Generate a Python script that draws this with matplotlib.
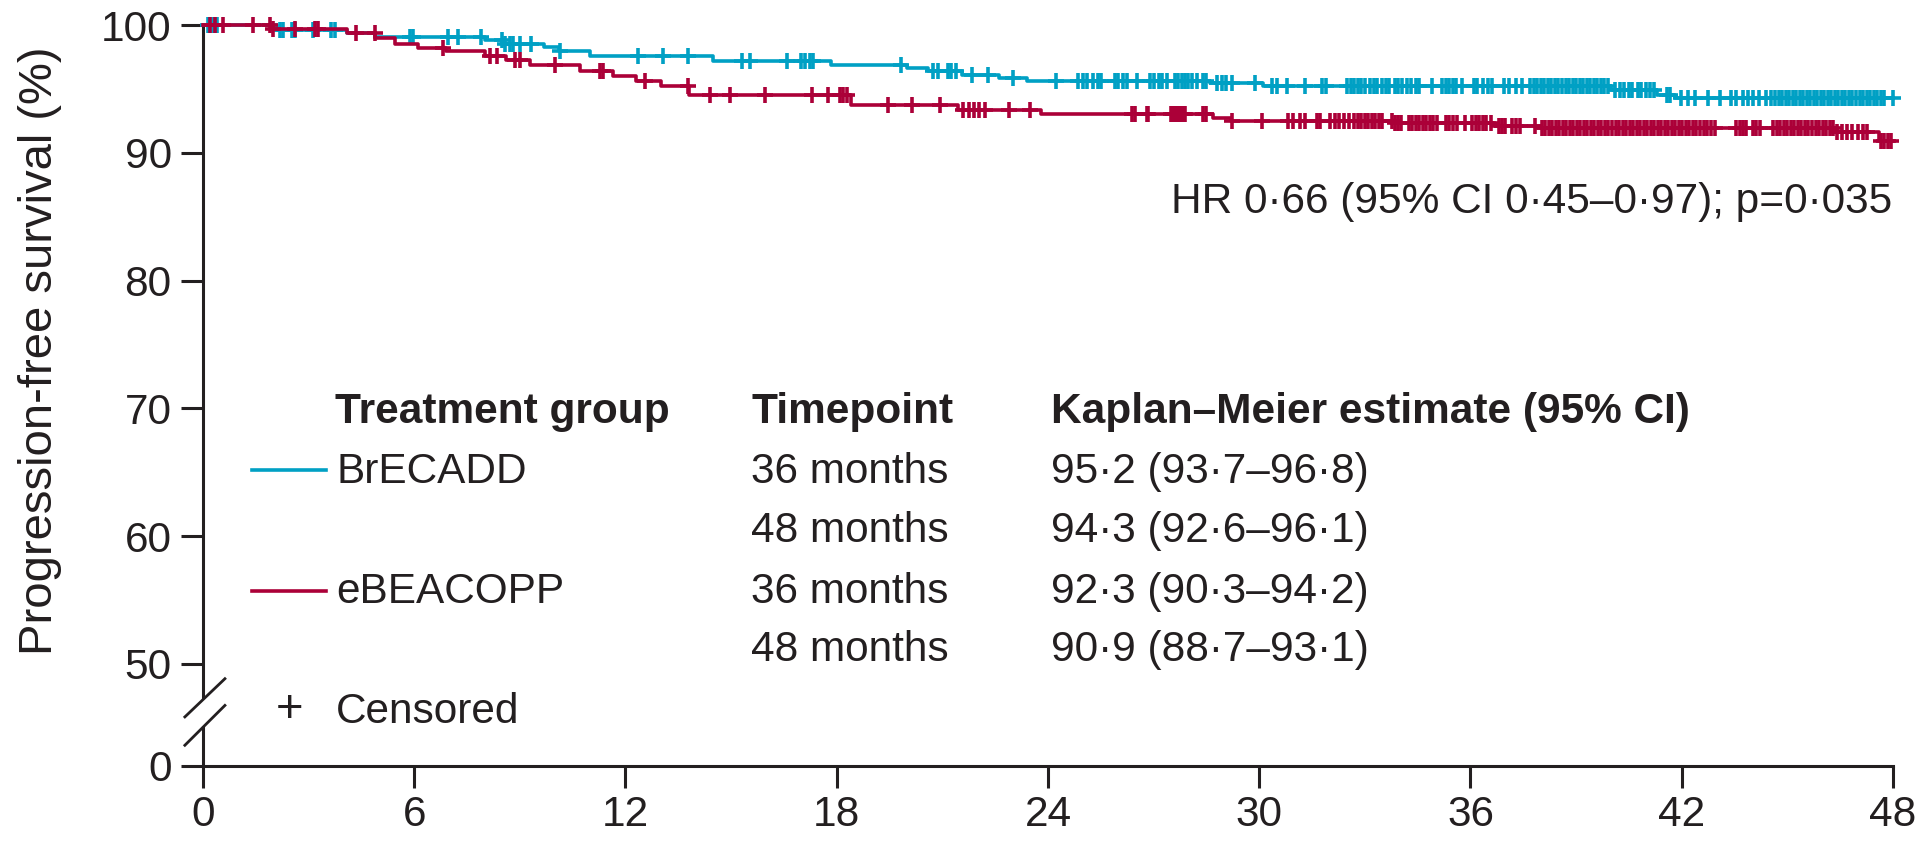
import numpy as np
import matplotlib.pyplot as plt
import matplotlib.transforms as mtransforms

plt.rcParams['font.family'] = ['Liberation Sans', 'DejaVu Sans']

ink = '#231f20'
cyan = '#00a0c4'
crimson = '#ab0038'

# Kaplan-Meier steps (months, % progression-free)
brecadd_t = [0, 2.1, 4.1, 4.9, 8.0, 8.5, 9.7, 10.1, 11.0, 14.5, 17.85, 20.0,
             20.6, 21.55, 22.6, 23.4, 28.6, 30.1, 40.0, 41.3, 41.8]
brecadd_s = [100, 99.6, 99.35, 99.1, 98.8, 98.55, 98.3, 97.97, 97.6, 97.2,
             96.9, 96.6, 96.4, 96.1, 95.85, 95.65, 95.45, 95.2, 94.9, 94.55, 94.3]

ebeacopp_t = [0, 2.0, 4.1, 4.9, 5.45, 6.1, 6.9, 8.0, 8.6, 9.3, 10.7, 11.65,
              12.3, 13.0, 13.8, 18.4, 21.45, 23.8, 28.7, 29.2, 33.8, 36.7,
              38.0, 46.4, 47.6]
ebeacopp_s = [100, 99.65, 99.35, 99.0, 98.5, 98.2, 97.95, 97.6, 97.3, 96.9,
              96.4, 96.0, 95.6, 95.2, 94.5, 93.75, 93.35, 93.0, 92.75, 92.5,
              92.3, 92.1, 91.9, 91.6, 90.9]

# censoring times
brecadd_cens = [
    0.15, 0.29, 0.39, 2.19, 2.28, 2.52, 2.61, 3.13, 3.65, 3.75, 5.88, 5.97,
    6.97, 7.25, 7.91, 8.48, 8.58, 8.72, 8.81, 9.0, 9.33, 10.14, 12.36, 13.07,
    13.78, 15.3, 15.54, 16.58, 17.0, 17.1, 17.24, 17.33, 19.84, 20.74, 20.88,
    21.17, 21.26, 21.4, 21.83, 22.3, 23.0, 24.24, 24.86, 25.0, 25.1, 25.29,
    25.43, 25.52, 25.9, 26.0, 26.14, 26.24, 26.52, 26.9, 27.0, 27.14, 27.23,
    27.37, 27.61, 27.7, 27.8, 27.89, 27.99, 28.08, 28.22, 28.41, 28.5, 28.79,
    28.93, 29.07, 29.22, 29.88, 30.35, 30.5, 30.78, 31.3, 31.77, 31.91, 32.48,
    32.6, 32.7, 32.8, 32.9, 33.0, 33.15, 33.25, 33.35, 33.5, 33.6, 33.7,
    33.85, 33.95, 34.05, 34.2, 34.3, 34.45, 34.55, 34.9, 35.2, 35.3, 35.4,
    35.5, 35.6, 35.75, 36.1, 36.2, 36.35, 36.5, 36.6, 36.95, 37.1, 37.3,
    37.45, 37.7, 37.8, 37.9, 38.0, 38.1, 38.2, 38.3, 38.4, 38.5, 38.6, 38.7,
    38.8, 38.9, 39.0, 39.1, 39.2, 39.3, 39.4, 39.5, 39.6, 39.7, 39.8, 39.9,
    40.1, 40.25, 40.35, 40.5, 40.6, 40.75, 40.85, 41.0, 41.1, 41.2, 41.57,
    41.66, 41.99, 42.18, 42.37, 42.76, 43.08, 43.4, 43.55, 43.73, 43.88,
    44.03, 44.2, 44.39, 44.55, 44.65, 44.75, 44.85, 44.95, 45.05, 45.15,
    45.25, 45.35, 45.45, 45.55, 45.65, 45.75, 45.85, 45.95, 46.05, 46.15,
    46.25, 46.35, 46.45, 46.55, 46.65, 46.75, 46.85, 46.95, 47.05, 47.15,
    47.25, 47.35, 47.45, 47.55, 47.65, 47.75, 48.0]

ebeacopp_cens = [
    0.2, 0.34, 0.58, 1.43, 1.9, 2.0, 2.61, 3.18, 3.28, 4.36, 4.88, 6.83,
    8.15, 8.34, 8.86, 9.0, 10.0, 11.27, 11.37, 12.55, 13.78, 14.4, 14.97,
    15.96, 17.29, 17.76, 18.09, 18.19, 18.28, 19.47, 20.13, 20.93, 21.6,
    21.75, 21.9, 22.05, 22.2, 22.9, 23.5, 26.38, 26.47, 26.8, 26.85, 27.5,
    27.55, 27.6, 27.65, 27.7, 27.75, 27.8, 27.85, 27.9, 28.41, 28.5, 29.22,
    30.07, 30.83, 30.97, 31.17, 31.3, 31.64, 31.73, 32.02, 32.16, 32.26,
    32.4, 32.55, 32.7, 32.8, 32.9, 33.0, 33.1, 33.2, 33.3, 33.4, 33.5, 33.76,
    33.85, 33.95, 34.04, 34.25, 34.35, 34.45, 34.55, 34.65, 34.75, 34.85,
    34.95, 35.05, 35.3, 35.4, 35.5, 35.62, 35.84, 36.05, 36.15, 36.25, 36.35,
    36.45, 36.58, 36.8, 36.9, 36.98, 37.18, 37.3, 37.42, 37.83, 38.02, 38.12,
    38.22, 38.32, 38.42, 38.52, 38.62, 38.72, 38.82, 38.92, 39.02, 39.12,
    39.22, 39.32, 39.42, 39.52, 39.62, 39.72, 39.82, 39.92, 40.02, 40.12,
    40.22, 40.32, 40.42, 40.52, 40.62, 40.72, 40.82, 40.92, 41.02, 41.12,
    41.22, 41.32, 41.42, 41.52, 41.62, 41.72, 41.82, 41.92, 42.02, 42.12,
    42.22, 42.32, 42.42, 42.52, 42.62, 42.72, 42.82, 42.95, 43.55, 43.65,
    43.75, 43.84, 44.03, 44.12, 44.22, 44.6, 44.7, 44.8, 44.9, 45.0, 45.1,
    45.2, 45.3, 45.4, 45.5, 45.6, 45.7, 45.8, 45.9, 46.0, 46.1, 46.2, 46.3,
    46.4, 46.55, 46.7, 46.85, 47.0, 47.15, 47.25, 47.65, 47.75, 47.85, 47.95]

groups = ['BrECADD', 'eBEACOPP']
timepoints = ['36 months', '48 months', '36 months', '48 months']
estimates = ['95·2 (93·7–96·8)', '94·3 (92·6–96·1)',
             '92·3 (90·3–94·2)', '90·9 (88·7–93·1)']
hr_text = 'HR 0·66 (95% CI 0·45–0·97); p=0·035'

x_ticks = [0, 6, 12, 18, 24, 30, 36, 42, 48]
y_ticks = [42, 50, 60, 70, 80, 90, 100]   # 42 stands in for 0 below the break
y_ticklabels = ['0', '50', '60', '70', '80', '90', '100']


def surv_at(times, surv, t):
    idx = np.searchsorted(times, t, side='right') - 1
    return np.asarray(surv)[idx]


fig = plt.figure(figsize=(19.31, 8.42), dpi=100)
ax = fig.add_axes([0.1051, 0.0903, 0.8752, 0.8800])
ax.set_xlim(0, 48)
ax.set_ylim(42, 100)

for t, s, cens, col in [(brecadd_t, brecadd_s, brecadd_cens, cyan),
                        (ebeacopp_t, ebeacopp_s, ebeacopp_cens, crimson)]:
    ax.step(list(t) + [48], list(s) + [s[-1]], where='post', color=col,
            lw=2.6, clip_on=False, zorder=3)
    ax.plot(cens, surv_at(t, s, cens), ls='none', marker='+', ms=12,
            mew=2.6, color=col, clip_on=False, zorder=3)

# axes styling
for side in ['top', 'right']:
    ax.spines[side].set_visible(False)
for side in ['left', 'bottom']:
    ax.spines[side].set_linewidth(2.2)
    ax.spines[side].set_color(ink)
ax.spines['left'].set_bounds(47.4, 100)
ax.plot([0, 0], [42, 45.1], color=ink, lw=2.2, clip_on=False,
        solid_capstyle='butt')
trans = mtransforms.blended_transform_factory(ax.transAxes, ax.transData)
ax.plot([-0.0107, 0.0130], [45.84, 48.83], color=ink, lw=2.0,
        transform=trans, clip_on=False)
ax.plot([-0.0107, 0.0130], [43.62, 46.74], color=ink, lw=2.0,
        transform=trans, clip_on=False)

ax.set_xticks(x_ticks)
ax.set_yticks(y_ticks)
ax.set_yticklabels(y_ticklabels)
ax.tick_params(direction='out', length=16, width=2.2, colors=ink,
               labelcolor=ink, labelsize=30.5)
ax.tick_params(axis='x', pad=5)
ax.tick_params(axis='y', pad=6.5)

fig.text(40 / 1931, 0.583, 'Progression-free survival (%)', rotation=90,
         ha='center', va='center', fontsize=34, color=ink)

# table legend
fs = 30.5
ax.text(3.75, 68.88, 'Treatment group', fontsize=fs, fontweight='bold',
        color=ink, va='baseline')
ax.text(15.57, 68.88, 'Timepoint', fontsize=fs, fontweight='bold',
        color=ink, va='baseline')
ax.text(24.1, 68.88, 'Kaplan–Meier estimate (95% CI)', fontsize=fs,
        fontweight='bold', color=ink, va='baseline')

row_y = [64.14, 59.55, 54.77, 50.18]
ax.text(3.78, row_y[0], groups[0], fontsize=fs, color=ink, va='baseline')
ax.text(3.78, row_y[2], groups[1], fontsize=fs, color=ink, va='baseline')
ax.plot([1.39, 3.5], [65.18, 65.18], color=cyan, lw=2.6)
ax.plot([1.39, 3.5], [55.73, 55.73], color=crimson, lw=2.6)
for y, tp, est in zip(row_y, timepoints, estimates):
    ax.text(15.57, y, tp, fontsize=fs, color=ink, va='baseline')
    ax.text(24.1, y, est, fontsize=fs, color=ink, va='baseline')

ax.text(2.45, 46.4, '+', fontsize=34, color=ink, ha='center', va='center')
ax.text(3.78, 45.35, 'Censored', fontsize=fs, color=ink, va='baseline')

ax.text(47.97, 85.3, hr_text, fontsize=fs, color=ink, ha='right',
        va='baseline')

fig.savefig('out.png', dpi=100)
